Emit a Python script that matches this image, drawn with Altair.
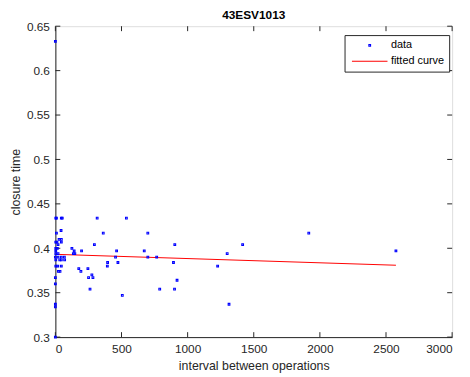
import altair as alt
import pandas as pd

# interval between operations (x) and closure time (y)
interval = [0, 0, 0, 0, 0, 0,
            3, 8, 45, 52, 316, 537,
            43, 8, 362, 699, 1916,
            28, 45, 3, 12, 45, 20, 295, 903, 1416,
            3, 15, 125, 3, 142, 198, 463, 672, 2575,
            3, 20, 136, 147, 1299,
            0, 20, 45, 68, 455, 699, 766,
            3, 33, 45, 70, 395, 393, 473, 893,
            3, 18, 45, 1227, 177, 246, 23, 35, 193, 276,
            251, 284, 920, 262, 789, 901, 506, 1313]
closure = [0.633, 0.300, 0.337, 0.334, 0.360, 0.367,
           0.434, 0.434, 0.434, 0.434, 0.434, 0.434,
           0.420, 0.417, 0.417, 0.417, 0.417,
           0.410, 0.410, 0.407, 0.407, 0.407, 0.404, 0.404, 0.404, 0.404,
           0.400, 0.400, 0.400, 0.397, 0.397, 0.397, 0.397, 0.397, 0.397,
           0.394, 0.394, 0.394, 0.394, 0.394,
           0.390, 0.390, 0.390, 0.390, 0.390, 0.390, 0.390,
           0.387, 0.387, 0.387, 0.387, 0.384, 0.380, 0.384, 0.384,
           0.380, 0.380, 0.380, 0.380, 0.377, 0.377, 0.374, 0.374, 0.374, 0.370,
           0.367, 0.367, 0.364, 0.354, 0.354, 0.354, 0.347, 0.337]

fit_x = [0, 2575]
fit_y = [0.3932, 0.3809]

series = ["data", "fitted curve"]
series_colors = ["#0000ff", "#ff0000"]

x_ticks = [0, 500, 1000, 1500, 2000, 2500, 3000]
y_ticks = [0.3, 0.35, 0.4, 0.45, 0.5, 0.55, 0.6, 0.65]

W, H = 402, 315
FONT = "Liberation Sans"
DARK = "#262626"

pts = pd.DataFrame({"x": interval, "y": closure, "series": "data"})
fit = pd.DataFrame({"x": fit_x, "y": fit_y, "series": "fitted curve"})
xt = pd.DataFrame({"x": x_ticks})
yt = pd.DataFrame({"y": y_ticks})

xscale = alt.Scale(domain=[0, 3000], nice=False, zero=False)
yscale = alt.Scale(domain=[0.3, 0.65], nice=False, zero=False)

xaxis = alt.Axis(values=x_ticks, format="d", title="interval between operations",
                 grid=False, tickSize=0, labelPadding=7, titlePadding=5,
                 domainColor=DARK, labelColor=DARK, titleColor=DARK,
                 labelFontSize=12, titleFontSize=12.5, titleFontWeight="normal",
                 labelFont=FONT, titleFont=FONT)
yaxis = alt.Axis(values=y_ticks, format="~g", title="closure time",
                 grid=False, tickSize=0, labelPadding=6, titlePadding=4,
                 domainColor=DARK, labelColor=DARK, titleColor=DARK,
                 labelFontSize=12, titleFontSize=12.5, titleFontWeight="normal",
                 labelFont=FONT, titleFont=FONT)

color = alt.Color("series:N", scale=alt.Scale(domain=series, range=series_colors),
                  legend=alt.Legend(title=None, orient="none", legendX=293, legendY=9,
                                    strokeColor=DARK, fillColor="white", padding=5,
                                    labelFont=FONT, labelFontSize=11, labelColor="black",
                                    symbolOffset=15, labelOffset=16, rowPadding=4,
                                    symbolStrokeWidth=1.1))
shape = alt.Shape("series:N",
                  scale=alt.Scale(domain=series, range=["square", "M-6,0H6"]),
                  legend=None)
size = alt.Size("series:N", scale=alt.Scale(domain=series, range=[3, 36]), legend=None)

points = alt.Chart(pts).mark_point(filled=False, strokeWidth=1.1, opacity=1).encode(
    x=alt.X("x:Q", scale=xscale, axis=xaxis),
    y=alt.Y("y:Q", scale=yscale, axis=yaxis),
    color=color, shape=shape, size=size,
)

line = alt.Chart(fit).mark_line(strokeWidth=1).encode(
    x=alt.X("x:Q", scale=xscale),
    y=alt.Y("y:Q", scale=yscale),
    color=color,
)

tick_style = dict(color=DARK, strokeWidth=1)
xb = alt.Chart(xt).mark_rule(**tick_style).encode(
    x=alt.X("x:Q", scale=xscale), y=alt.value(H), y2=alt.value(H - 5))
xtop = alt.Chart(xt).mark_rule(**tick_style).encode(
    x=alt.X("x:Q", scale=xscale), y=alt.value(0), y2=alt.value(5))
yl = alt.Chart(yt).mark_rule(**tick_style).encode(
    y=alt.Y("y:Q", scale=yscale), x=alt.value(0), x2=alt.value(5))
yr = alt.Chart(yt).mark_rule(**tick_style).encode(
    y=alt.Y("y:Q", scale=yscale), x=alt.value(W), x2=alt.value(W - 5))

chart = alt.layer(xb, xtop, yl, yr, line, points).properties(
    width=W, height=H,
    title=alt.Title("43ESV1013", font=FONT, fontSize=12, fontWeight="bold",
                    color="black", offset=-2),
    autosize=alt.AutoSizeParams(type="none"),
    padding={"left": 48, "top": 16, "right": 10, "bottom": 40},
).configure_view(stroke=DARK, strokeWidth=1).configure(background="white")

chart.save("out.html", embed_options={"renderer": "svg", "actions": False})
